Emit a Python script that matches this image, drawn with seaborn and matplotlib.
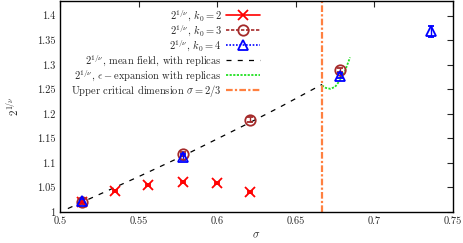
import matplotlib
matplotlib.use("Agg")
import matplotlib.pyplot as plt
import seaborn as sns
import pandas as pd
from matplotlib.lines import Line2D
from matplotlib.ticker import FuncFormatter

# -------------------------------
# Data
# -------------------------------
sigma_k2 = [0.514, 0.535, 0.556, 0.578, 0.600, 0.621]
nu_k2 = [1.020, 1.042, 1.056, 1.062, 1.060, 1.040]
err_k2 = [0.002, 0.002, 0.002, 0.002, 0.002, 0.002]

sigma_k3 = [0.514, 0.578, 0.621, 0.678]
nu_k3 = [1.020, 1.119, 1.188, 1.289]
err_k3 = [0.003, 0.004, 0.005, 0.004]

sigma_k4 = [0.514, 0.578, 0.678, 0.736]
nu_k4 = [1.023, 1.112, 1.278, 1.368]
err_k4 = [0.004, 0.006, 0.005, 0.011]

sigma_mf = [0.505, 0.53, 0.55, 0.58, 0.60, 0.62, 0.64, 0.6667]
nu_mf = [1.007, 1.043, 1.072, 1.117, 1.149, 1.181, 1.214, 1.260]

sigma_eps = [0.6667, 0.669, 0.672, 0.675, 0.678, 0.681, 0.6845]
nu_eps = [1.258, 1.253, 1.251, 1.255, 1.268, 1.285, 1.315]

sigma_uc = 2 / 3

xticks = [0.5, 0.55, 0.6, 0.65, 0.7, 0.75]
yticks = [1, 1.05, 1.1, 1.15, 1.2, 1.25, 1.3, 1.35, 1.4]

# -------------------------------
# Style
# -------------------------------
sns.set_style("white")
plt.rcParams["font.family"] = "cmr10"
plt.rcParams["mathtext.fontset"] = "cm"
plt.rcParams["axes.formatter.use_mathtext"] = True

fig = plt.figure(figsize=(4.63, 2.43), dpi=100)
ax = fig.add_axes([60 / 463, 1 - 212 / 243, 393 / 463, 211 / 243])

red = "#ff0000"
brown = "#a52a2a"
blue = "#0000ff"
green = "#22e022"
orange = "#ff8040"

# curves
mf = pd.DataFrame({"sigma": sigma_mf, "val": nu_mf})
eps = pd.DataFrame({"sigma": sigma_eps, "val": nu_eps})
sns.lineplot(data=mf, x="sigma", y="val", ax=ax, color="black",
             linestyle=(0, (4, 5)), linewidth=0.9)
sns.lineplot(data=eps, x="sigma", y="val", ax=ax, color=green,
             linestyle=(0, (1.2, 0.8)), linewidth=1.3)
ax.axvline(sigma_uc, color=orange, linestyle=(0, (3, 1, 1, 1)), linewidth=1.6)

# data points with error bars
ax.errorbar(sigma_k2, nu_k2, yerr=err_k2, fmt="x", color=red, ms=7.5,
            mew=1.3, capsize=2, elinewidth=1)
ax.errorbar(sigma_k3, nu_k3, yerr=err_k3, fmt="o", color=brown, mfc="none",
            ms=7.5, mew=1.3, capsize=2, elinewidth=1)
ax.errorbar(sigma_k4, nu_k4, yerr=err_k4, fmt="^", color=blue, mfc="none",
            ms=7.5, mew=1.3, capsize=2, elinewidth=1)

ax.set_xlim(0.5, 0.75)
ax.set_ylim(1, 1.43)
ax.set_xticks(xticks)
ax.set_yticks(yticks)
fmt = FuncFormatter(lambda v, p: "%g" % v)
ax.xaxis.set_major_formatter(fmt)
ax.yaxis.set_major_formatter(fmt)
ax.tick_params(direction="in", length=4, width=0.8, top=True, right=True,
               labelsize=7.5, pad=3)
for s in ax.spines.values():
    s.set_linewidth(1)
    s.set_color("black")

ax.set_xlabel(r"$\sigma$", fontsize=8, labelpad=4)
ax.set_ylabel(r"$2^{1/\nu}$", fontsize=8, labelpad=12)

# legend (gnuplot style: text right aligned, key on the right)
handles = [
    Line2D([], [], color=red, marker="x", ms=7.5, mew=1.3, linestyle="-", lw=1.2),
    Line2D([], [], color=brown, marker="o", mfc="none", ms=7.5, mew=1.3,
           linestyle=(0, (2, 1)), lw=1.2),
    Line2D([], [], color=blue, marker="^", mfc="none", ms=7.5, mew=1.3,
           linestyle=(0, (1, 1)), lw=1.2),
    Line2D([], [], color="black", linestyle=(0, (4, 5)), lw=0.9),
    Line2D([], [], color=green, linestyle=(0, (1.2, 0.8)), lw=1.3),
    Line2D([], [], color=orange, linestyle=(0, (3, 1, 1, 1)), lw=1.6),
]
labels = [
    r"$2^{1/\nu}$, $k_0=2$",
    r"$2^{1/\nu}$, $k_0=3$",
    r"$2^{1/\nu}$, $k_0=4$",
    r"$2^{1/\nu}$, mean field, with replicas",
    r"$2^{1/\nu}$, $\epsilon-$expansion with replicas",
    r"Upper critical dimension $\sigma=2/3$",
]
ax.legend(handles, labels, loc="upper right", markerfirst=False,
          bbox_to_anchor=(260 / 463, 1 - 7 / 243),
          bbox_transform=fig.transFigure, frameon=False, fontsize=7.5,
          handlelength=3.3, handletextpad=0.4, labelspacing=-0.05,
          borderpad=0, borderaxespad=0)

fig.savefig("out.png", dpi=100)
